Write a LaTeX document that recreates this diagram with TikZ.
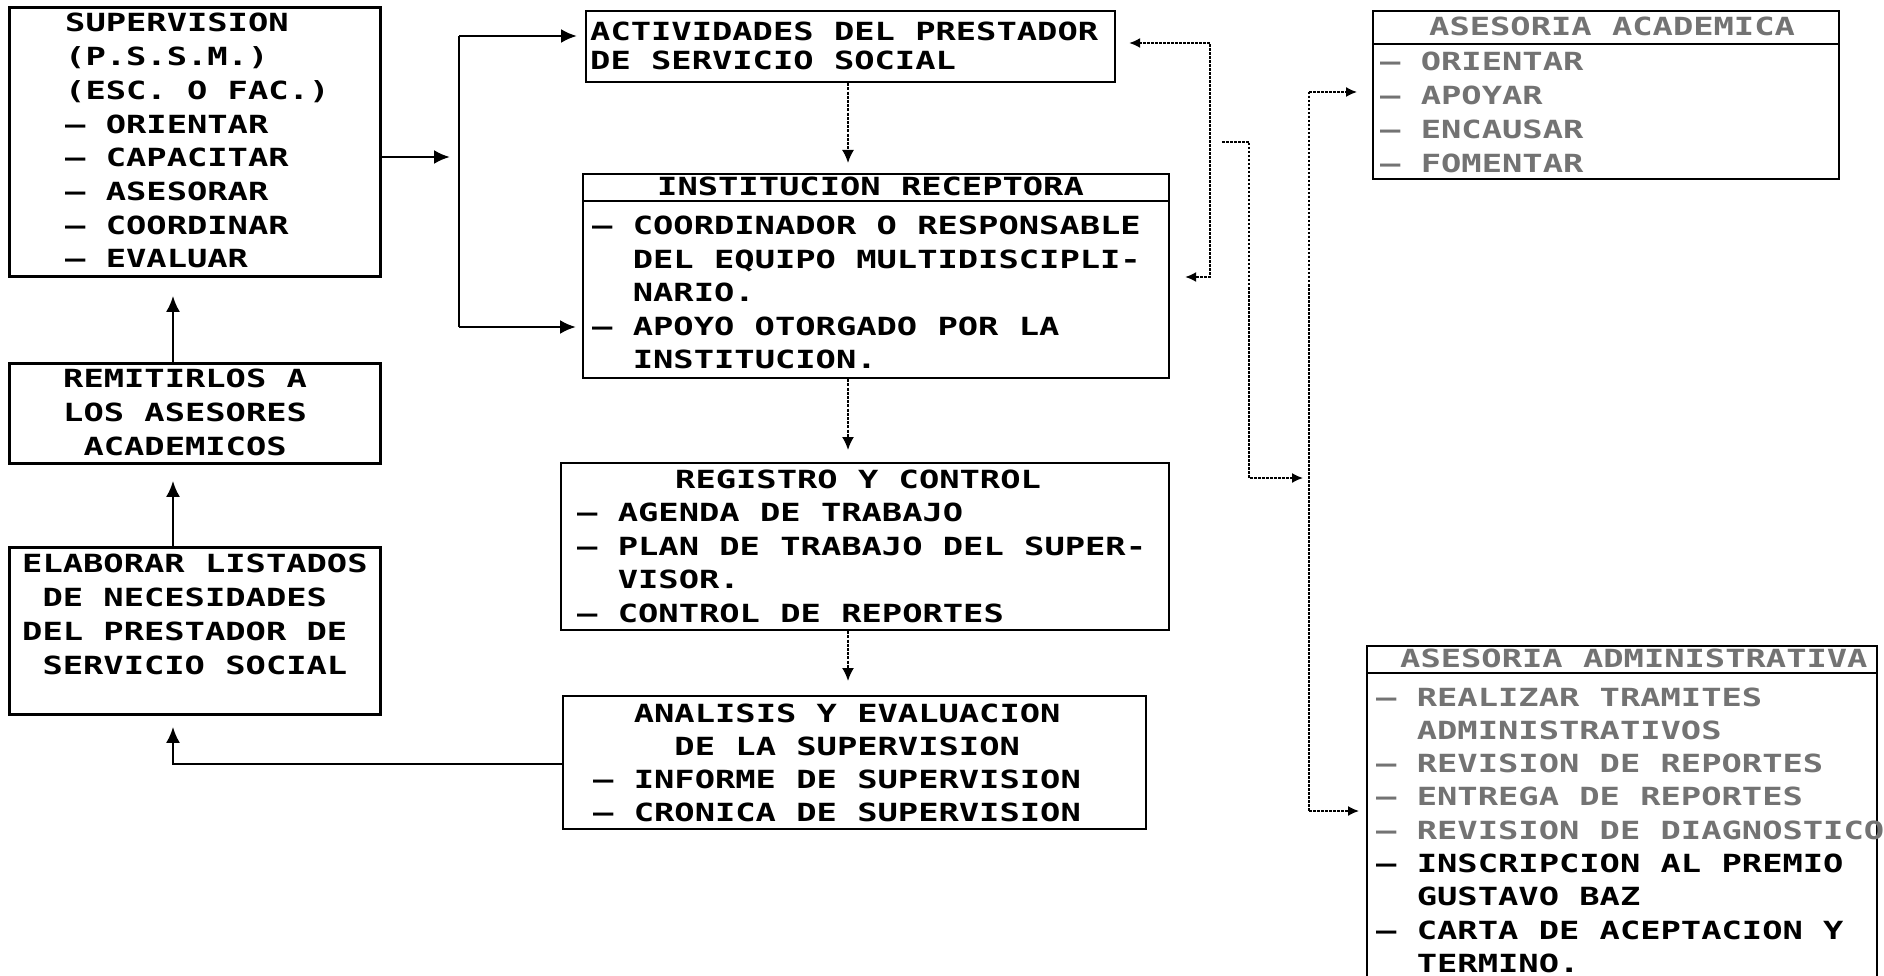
\documentclass[tikz,border=0pt]{standalone}
\usepackage{fontspec}
\newfontfamily\dotfont[FakeStretch=1.35]{DejaVu Sans Mono}
\usetikzlibrary{arrows.meta}
\definecolor{fadegray}{gray}{0.45}
\newcommand\Ln[1]{\hbox{#1}}
\newcommand\Ind{\phantom{X}}
\newcommand\Fd[1]{{\color{fadegray}#1}}
\tikzset{
  lbox/.style={draw, line width=2.8pt, inner sep=0pt, anchor=north west},
  cbox/.style={draw, line width=2.2pt, inner sep=0pt, anchor=north west},
  rule/.style={line width=2.2pt},
  txt/.style={inner sep=0pt, anchor=base west, font=\dotfont\bfseries\fontsize{25}{33.6}\selectfont},
  sline/.style={line width=2.6pt},
  sarr/.style={sline, -{Latex[length=16pt,width=14pt]}},
  dline/.style={line width=1.8pt, dash pattern=on 3pt off 1.2pt},
  darr/.style={dline, -{Latex[length=13pt,width=12pt]}},
  rline/.style={line width=1.6pt, dash pattern=on 2.5pt off 1.5pt},
  rarr/.style={rline, -{Latex[length=11pt,width=10pt]}},
}
\begin{document}
\begin{tikzpicture}[x=1pt,y=-1pt]
\clip (0,0) rectangle (1884,976);
\fill[white] (0,0) rectangle (1884,976);

% ---------- left column ----------
\node[lbox, minimum width=371pt, minimum height=269pt] (sup) at (8,6) {};
\node[txt] (supT) at (65,32) {\vtop{\baselineskip=33.7pt
  \Ln{SUPERVISION}\Ln{(P.S.S.M.)}\Ln{(ESC. O FAC.)}\Ln{– ORIENTAR}
  \Ln{– CAPACITAR}\Ln{– ASESORAR}\Ln{– COORDINAR}\Ln{– EVALUAR}}};

\node[lbox, minimum width=371pt, minimum height=100pt] (rem) at (8,362) {};
\node[txt] (remT) at (63,387) {\vtop{\baselineskip=34pt
  \Ln{REMITIRLOS A}\Ln{LOS ASESORES}\Ln{\Ind ACADEMICOS}}};

\node[lbox, minimum width=371pt, minimum height=167pt] (ela) at (8,546) {};
\node[txt] (elaT) at (22,572) {\vtop{\baselineskip=34pt
  \Ln{ELABORAR LISTADOS}\Ln{\Ind DE NECESIDADES}\Ln{DEL PRESTADOR DE}\Ln{\Ind SERVICIO SOCIAL}}};

% ---------- centre column ----------
\node[cbox, minimum width=529pt, minimum height=71pt] (act) at (585,10) {};
\node[txt] (actT) at (590,41) {\vtop{\baselineskip=29pt
  \Ln{ACTIVIDADES DEL PRESTADOR}\Ln{DE SERVICIO SOCIAL}}};

\node[cbox, minimum width=586pt, minimum height=204pt] (inst) at (582,173) {};
\draw[rule] ([yshift=-28pt]inst.north west) -- ([yshift=-28pt]inst.north east);
\node[txt] (instH) at (657,196) {INSTITUCION RECEPTORA};
\node[txt] (instT) at (592,235) {\vtop{\baselineskip=33.5pt
  \Ln{– COORDINADOR O RESPONSABLE}\Ln{\Ind\Ind DEL EQUIPO MULTIDISCIPLI-}
  \Ln{\Ind\Ind NARIO.}\Ln{– APOYO OTORGADO POR LA}\Ln{\Ind\Ind INSTITUCION.}}};

\node[cbox, minimum width=608pt, minimum height=167pt] (reg) at (560,462) {};
\node[txt] (regH) at (675,488) {REGISTRO Y CONTROL};
\node[txt] (regT) at (577,521.5) {\vtop{\baselineskip=33.5pt
  \Ln{– AGENDA DE TRABAJO}\Ln{– PLAN DE TRABAJO DEL SUPER-}
  \Ln{\Ind\Ind VISOR.}\Ln{– CONTROL DE REPORTES}}};

\node[cbox, minimum width=583pt, minimum height=133pt] (ana) at (562,695) {};
\node[txt] (anaT) at (593,722) {\vtop{\baselineskip=33pt
  \Ln{\Ind\Ind ANALISIS Y EVALUACION}\Ln{\Ind\Ind\Ind\Ind DE LA SUPERVISION}
  \Ln{– INFORME DE SUPERVISION}\Ln{– CRONICA DE SUPERVISION}}};

% ---------- right column ----------
\node[cbox, minimum width=466pt, minimum height=168pt] (aca) at (1372,10) {};
\draw[rule] ([yshift=-34pt]aca.north west) -- ([yshift=-34pt]aca.north east);
\node[txt] (acaH) at (1429,36) {\Fd{ASESORIA ACADEMICA}};
\node[txt] (acaT) at (1380,71) {\vtop{\baselineskip=34pt
  \Ln{\Fd{– ORIENTAR}}\Ln{\Fd{– APOYAR}}\Ln{\Fd{– ENCAUSAR}}\Ln{\Fd{– FOMENTAR}}}};

\node[cbox, minimum width=510pt, minimum height=357pt] (adm) at (1366,645) {};
\draw[rule] ([yshift=-28pt]adm.north west) -- ([yshift=-28pt]adm.north east);
\node[txt] (admH) at (1400,667) {\Fd{ASESORIA ADMINISTRATIVA}};
\node[txt] (admT) at (1376,706) {\vtop{\baselineskip=33.3pt
  \Ln{\Fd{– REALIZAR TRAMITES}}\Ln{\Fd{\Ind\Ind ADMINISTRATIVOS}}
  \Ln{\Fd{– REVISION DE REPORTES}}\Ln{\Fd{– ENTREGA DE REPORTES}}
  \Ln{\Fd{– REVISION DE DIAGNOSTICO}}\Ln{– INSCRIPCION AL PREMIO}
  \Ln{\Ind\Ind GUSTAVO BAZ}\Ln{– CARTA DE ACEPTACION Y}\Ln{\Ind\Ind TERMINO.}}};

% ---------- left connectors ----------
\coordinate (jt) at (459,36);
\coordinate (jm) at (459,157);
\coordinate (jb) at (459,327);
\coordinate (ax) at (173,0);
\coordinate (ay) at (0,764);
\draw[sline] (jt) -- (jb);
\draw[sarr, shorten >=9pt] (sup.east |- jm) -- (jm);
\draw[sarr, shorten >=8pt] (jt) -- (act.west |- jt);
\draw[sarr, shorten >=6pt] (jb) -- (inst.west |- jb);
\draw[sarr, shorten >=18pt] (rem.north -| ax) -- (sup.south -| ax);
\draw[sarr, shorten >=16pt] (ela.north -| ax) -- (rem.south -| ax);
\draw[sarr, shorten >=11pt] (ana.west |- ay) -| (ela.south -| ax);

% ---------- centre connectors ----------
\coordinate (cx) at (848,0);
\draw[darr, shorten >=10pt] (act.south -| cx) -- (inst.north -| cx);
\draw[darr, shorten >=12pt] (inst.south -| cx) -- (reg.north -| cx);
\draw[darr, shorten >=14pt] (reg.south -| cx) -- (ana.north -| cx);

% ---------- right connectors ----------
\coordinate (l1) at (1210,43);
\coordinate (l2) at (1210,277);
\draw[rline, {Latex[length=11pt,width=10pt]}-{Latex[length=11pt,width=10pt]},
      shorten <=13pt, shorten >=15pt] (act.east |- l1) -- (l1) -- (l2) -- (inst.east |- l2);
\coordinate (s0) at (1222,142);
\coordinate (s1) at (1249,142);
\coordinate (s2) at (1249,478);
\coordinate (b0) at (1309,478);
\draw[rarr, shorten >=6pt] (s0) -- (s1) -- (s2) -- (b0);
\coordinate (bt) at (1309,92);
\coordinate (bb) at (1309,811);
\draw[rline] (bt) -- (bb);
\draw[rarr, shorten >=15pt] (bt) -- (aca.west |- bt);
\draw[rarr, shorten >=7pt] (bb) -- (adm.west |- bb);
\end{tikzpicture}
\end{document}
